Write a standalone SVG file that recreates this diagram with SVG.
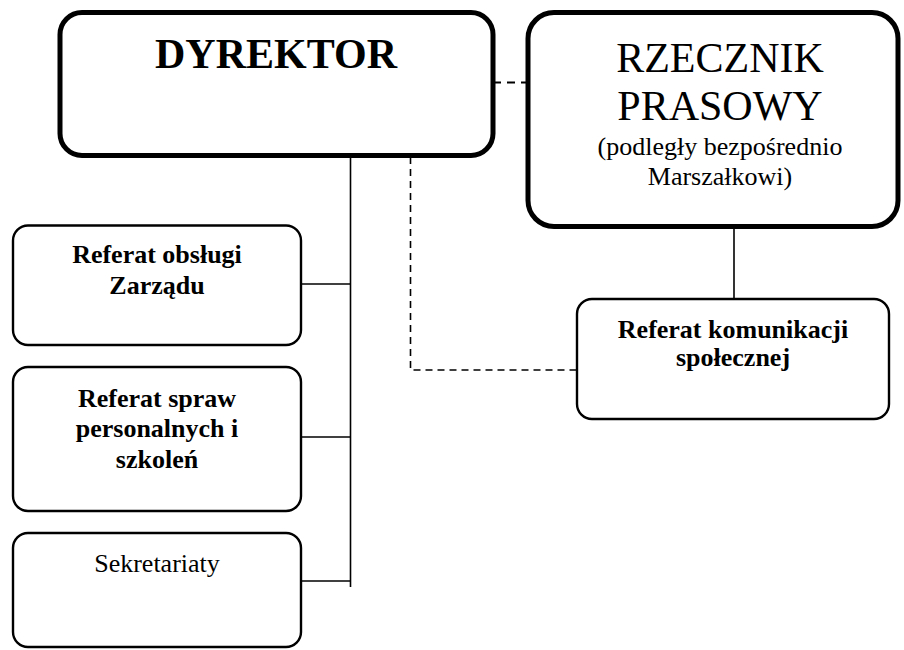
<svg xmlns="http://www.w3.org/2000/svg" width="904" height="650" viewBox="0 0 904 650">
<style>
.thick{fill:#fff;stroke:#000;stroke-width:5}
.thin{fill:#fff;stroke:#000;stroke-width:2.4}
.ln{stroke:#000;stroke-width:1.6;fill:none}
.dash{stroke:#000;stroke-width:1.6;fill:none;stroke-dasharray:7,5}
.dash2{stroke:#000;stroke-width:1.8;fill:none;stroke-dasharray:8,6}
text{fill:#000;text-anchor:middle}
.b{font-weight:bold}
</style>
<rect width="904" height="650" fill="#fff"/>
<g id="connectors">
<line class="ln" x1="350.5" y1="155" x2="350.5" y2="587"/>
<line class="ln" x1="301" y1="284" x2="350.5" y2="284"/>
<line class="ln" x1="301" y1="437" x2="350.5" y2="437"/>
<line class="ln" x1="301" y1="581" x2="350.5" y2="581"/>
<polyline class="dash" points="410.5,157 410.5,370 577,370"/>
<line class="dash2" x1="493" y1="82.5" x2="528" y2="82.5"/>
<line class="ln" x1="734" y1="226" x2="734" y2="299"/>
</g>
<g font-family="Liberation Serif, serif">
<g id="dyrektor">
<rect class="thick" x="60" y="12.5" width="433" height="143" rx="22"/>
<text class="b" x="276" y="68" font-size="42">DYREKTOR</text>
</g>
<g id="rzecznik">
<rect class="thick" x="528" y="12.5" width="370" height="214" rx="26"/>
<text x="720" y="72" font-size="42">RZECZNIK</text>
<text x="720" y="120" font-size="42">PRASOWY</text>
<text x="720" y="155" font-size="26">(podległy bezpośrednio</text>
<text x="720" y="185" font-size="26">Marszałkowi)</text>
</g>
<g id="ref-zarzadu">
<rect class="thin" x="13" y="225.5" width="288" height="119.5" rx="15"/>
<text class="b" x="157" y="263" font-size="26">Referat obsługi</text>
<text class="b" x="157" y="294" font-size="26">Zarządu</text>
</g>
<g id="ref-personalnych">
<rect class="thin" x="13" y="367" width="288" height="144" rx="15"/>
<text class="b" x="157" y="407" font-size="26">Referat spraw</text>
<text class="b" x="157" y="437" font-size="26">personalnych i</text>
<text class="b" x="157" y="468" font-size="26">szkoleń</text>
</g>
<g id="sekretariaty">
<rect class="thin" x="13" y="533" width="288" height="114" rx="15"/>
<text x="157" y="572" font-size="26">Sekretariaty</text>
</g>
<g id="ref-komunikacji">
<rect class="thin" x="577" y="299" width="312" height="120" rx="15"/>
<text class="b" x="733" y="338" font-size="26">Referat komunikacji</text>
<text class="b" x="733" y="366" font-size="26">społecznej</text>
</g>
</g>
</svg>
